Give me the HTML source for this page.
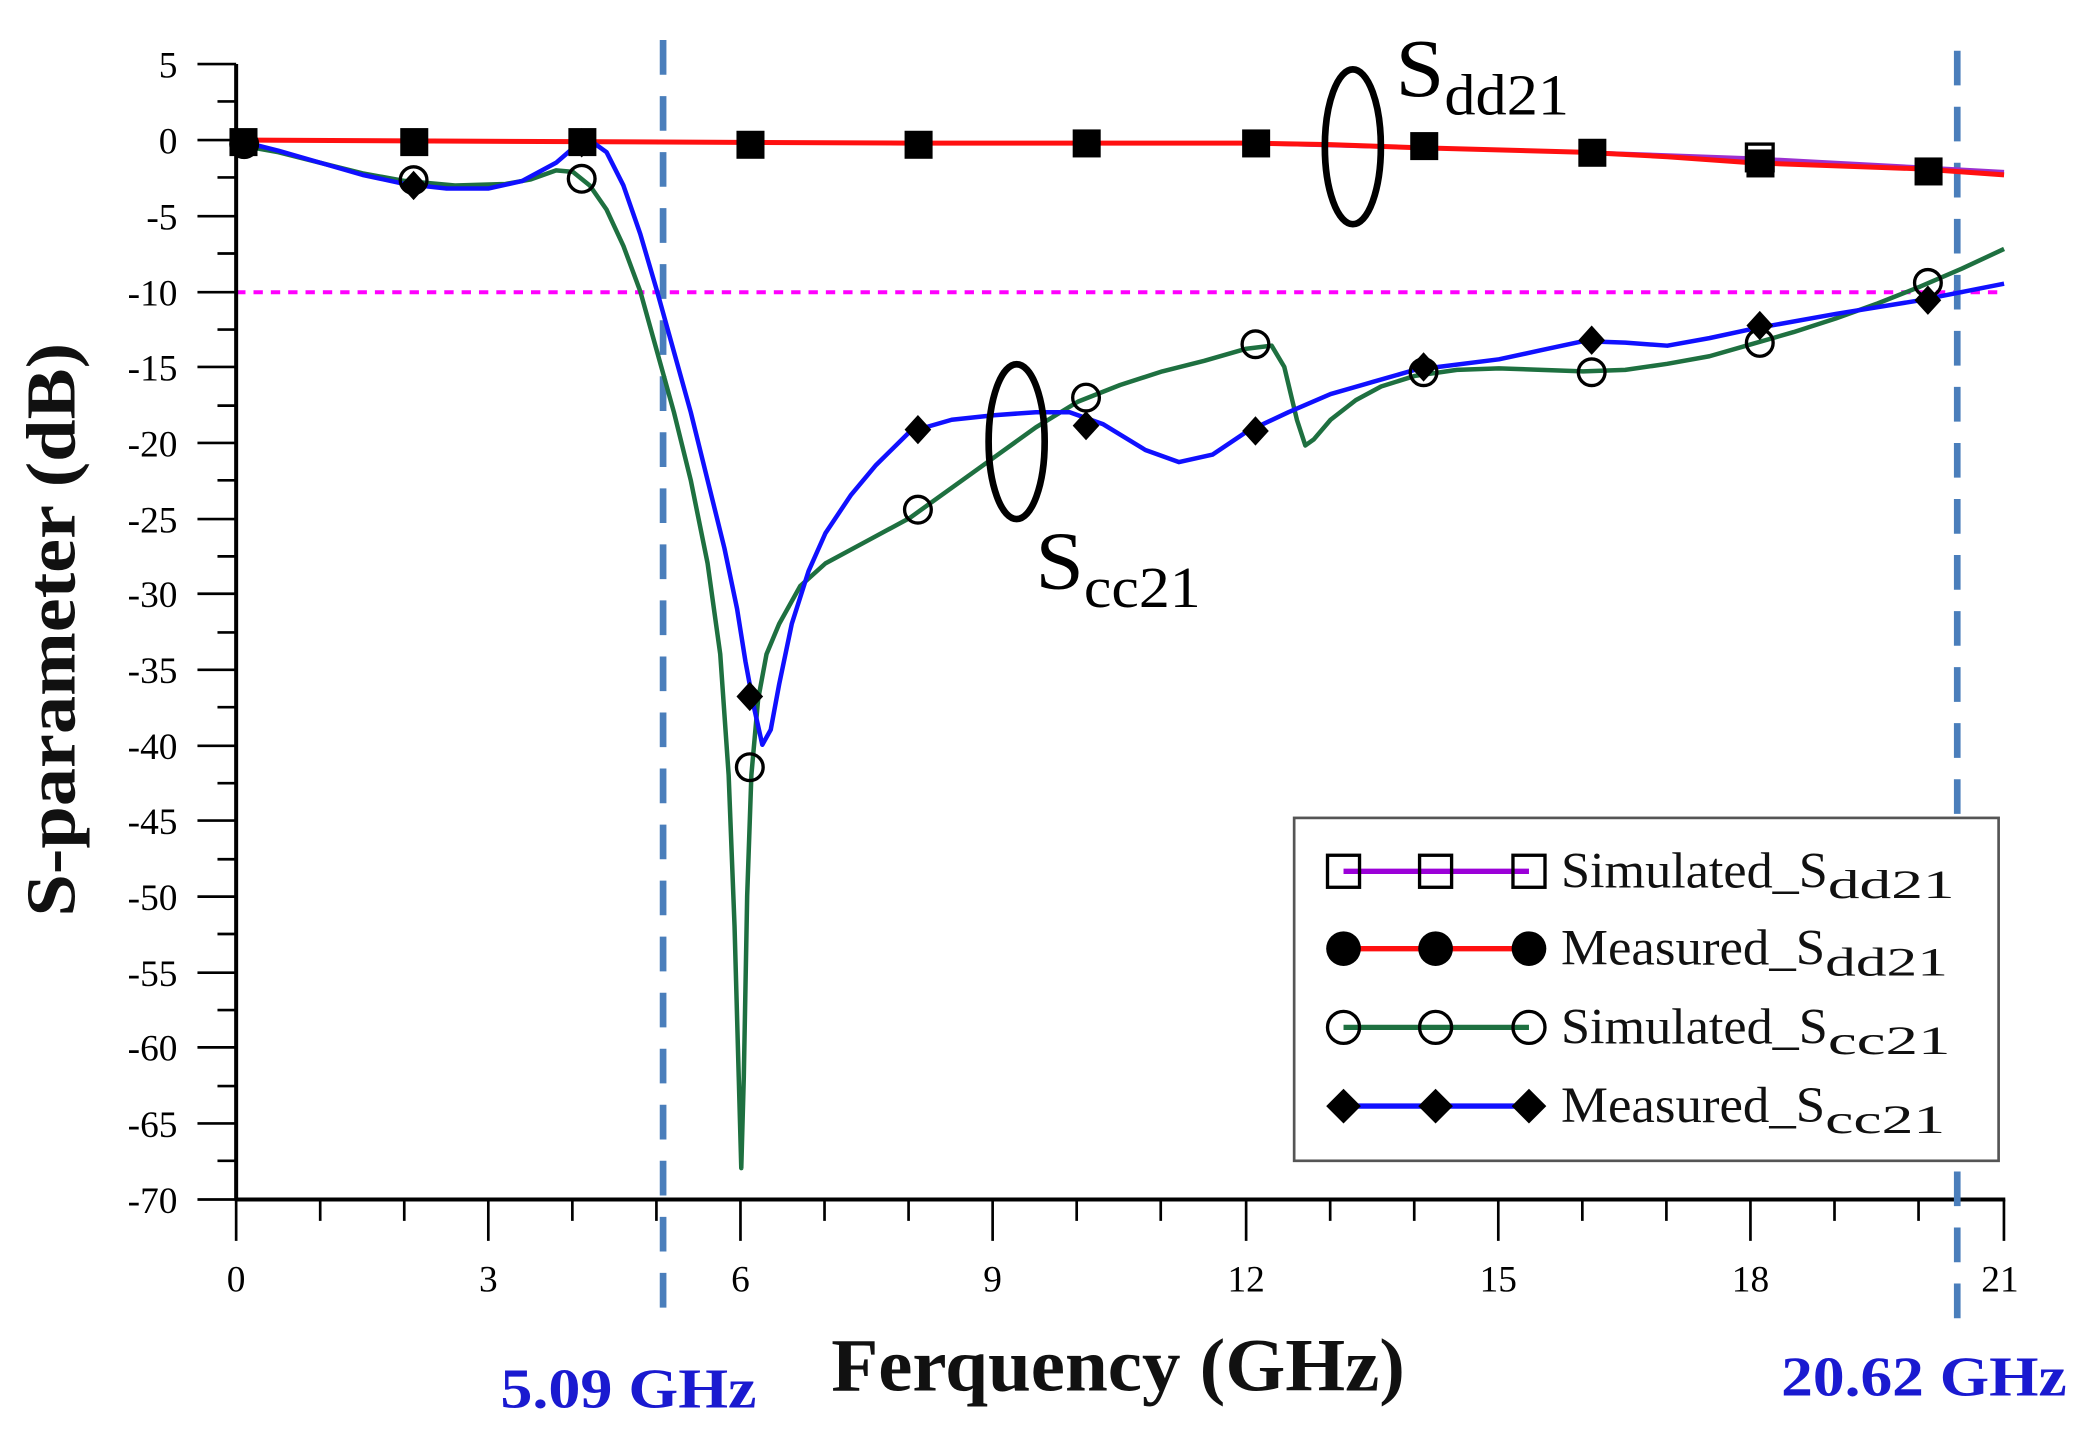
<!DOCTYPE html>
<html><head><meta charset="utf-8"><style>html,body{margin:0;padding:0;background:#fff}svg{display:block}</style></head>
<body>
<svg width="2092" height="1437" viewBox="0 0 1568 1077" preserveAspectRatio="none" xmlns="http://www.w3.org/2000/svg" font-family="Liberation Serif, serif">
<rect width="1568" height="1077" fill="#fff"/>
<line x1="177" y1="219" x2="1502" y2="219" stroke="#ff00ff" stroke-width="3" stroke-dasharray="7,6"/>
<g stroke="#000" stroke-width="3">
<line x1="177" y1="48" x2="177" y2="899"/>
<line x1="176" y1="899" x2="1503" y2="899"/>
</g>
<g stroke="#000" stroke-width="2">
<path d="M148 48H177M148 105H177M148 162H177M148 219H177M148 275H177M148 332H177M148 389H177M148 445H177M148 502H177M148 559H177M148 615H177M148 672H177M148 729H177M148 785H177M148 842H177M148 899H177"/>
<path d="M163 76H177M163 133H177M163 190H177M163 247H177M163 304H177M163 360H177M163 417H177M163 474H177M163 530H177M163 587H177M163 644H177M163 700H177M163 757H177M163 814H177M163 870H177"/>
<path d="M177 899V930M366 899V930M555 899V930M744 899V930M934 899V930M1123 899V930M1312 899V930M1502 899V930"/>
<path d="M240 899V915M303 899V915M429 899V915M492 899V915M618 899V915M681 899V915M807 899V915M870 899V915M997 899V915M1060 899V915M1186 899V915M1249 899V915M1375 899V915M1438 899V915"/>
</g>
<g font-size="28" text-anchor="end" fill="#000">
<text x="133" y="58">5</text><text x="133" y="115">0</text><text x="133" y="172">-5</text><text x="133" y="229">-10</text><text x="133" y="285">-15</text><text x="133" y="342">-20</text><text x="133" y="399">-25</text><text x="133" y="455">-30</text><text x="133" y="512">-35</text><text x="133" y="569">-40</text><text x="133" y="625">-45</text><text x="133" y="682">-50</text><text x="133" y="739">-55</text><text x="133" y="795">-60</text><text x="133" y="852">-65</text><text x="133" y="909">-70</text>
</g>
<g font-size="28" text-anchor="middle" fill="#000">
<text x="177" y="968">0</text><text x="366" y="968">3</text><text x="555" y="968">6</text><text x="744" y="968">9</text><text x="934" y="968">12</text><text x="1123" y="968">15</text><text x="1312" y="968">18</text><text x="1499" y="968">21</text>
</g>
<g stroke="#4a7ebb" stroke-width="5" stroke-dasharray="26,16">
<line x1="497" y1="30" x2="497" y2="990"/>
<line x1="1467" y1="38" x2="1467" y2="998"/>
</g>
<g transform="translate(177,105) scale(63.1,-11.33)" fill="none" stroke-linejoin="round">
<polyline vector-effect="non-scaling-stroke" stroke="#9b30d0" stroke-width="4" points="0,0 4,-0.1 8,-0.2 12,-0.2 14,-0.5 16,-0.8 18,-1.2 20,-1.8 21,-2.1"/>
<polyline vector-effect="non-scaling-stroke" stroke="#ff1010" stroke-width="5" points="0,0 4,-0.1 8,-0.2 12,-0.2 13,-0.3 14,-0.5 16,-0.8 17,-1.1 18,-1.5 20,-1.9 21,-2.3"/>
<polyline vector-effect="non-scaling-stroke" stroke="#1e7040" stroke-width="4.5" points="0,-0.3 0.5,-0.8 1,-1.5 1.5,-2.2 2,-2.7 2.6,-3 3.2,-2.9 3.5,-2.6 3.8,-2 4.0,-2.1 4.2,-3 4.4,-4.6 4.6,-7 4.8,-10 5.0,-14 5.2,-18 5.4,-22.5 5.6,-28 5.75,-34 5.85,-42 5.92,-52 5.97,-62 6.0,-68 6.03,-62 6.07,-50 6.12,-42 6.2,-37 6.3,-34 6.45,-32 6.7,-29.5 7,-28 7.5,-26.5 8,-25 8.5,-23 9,-21 9.5,-19 10,-17.3 10.5,-16.2 11,-15.3 11.5,-14.6 12,-13.8 12.3,-13.6 12.45,-15 12.6,-18.5 12.7,-20.2 12.8,-19.8 13,-18.5 13.3,-17.2 13.6,-16.3 14,-15.6 14.5,-15.2 15,-15.1 16,-15.3 16.5,-15.2 17,-14.8 17.5,-14.3 18,-13.5 18.5,-12.7 19,-11.8 19.5,-10.8 20,-9.7 20.5,-8.5 21,-7.2"/>
<polyline vector-effect="non-scaling-stroke" stroke="#1010ff" stroke-width="4.5" points="0,0 0.5,-0.7 1,-1.5 1.5,-2.3 2,-2.9 2.5,-3.2 3,-3.2 3.4,-2.7 3.8,-1.5 4.05,-0.3 4.25,-0.2 4.4,-0.8 4.6,-3 4.8,-6.2 5.0,-10 5.2,-14 5.4,-18 5.6,-22.5 5.8,-27 5.95,-31 6.05,-34.5 6.15,-37.5 6.25,-40 6.35,-39 6.45,-36 6.6,-32 6.8,-28.5 7,-26 7.3,-23.5 7.6,-21.5 8,-19.3 8.5,-18.5 9,-18.2 9.5,-18 9.9,-18 10.3,-18.8 10.8,-20.5 11.2,-21.3 11.6,-20.8 12,-19.3 12.5,-18 13,-16.8 13.5,-16 14,-15.2 15,-14.5 15.5,-13.9 16,-13.3 16.5,-13.4 17,-13.6 17.5,-13.1 18,-12.5 19,-11.5 20,-10.6 21,-9.5"/>
</g>
<g fill="none" stroke="#000" stroke-width="2.5">
<circle cx="183" cy="108" r="10"/><circle cx="310" cy="135" r="10"/><circle cx="436" cy="134" r="10"/><circle cx="562" cy="575" r="10"/><circle cx="688" cy="382" r="10"/><circle cx="814" cy="298" r="10"/><circle cx="941" cy="258" r="10"/><circle cx="1067" cy="279" r="10"/><circle cx="1193" cy="279" r="10"/><circle cx="1319" cy="257" r="10"/><circle cx="1445" cy="212" r="10"/>
<rect x="1309" y="108" width="20" height="20"/>
</g>
<g fill="#000">
<rect x="172" y="96" width="21" height="21"/><rect x="300" y="96" width="21" height="21"/><rect x="426" y="96" width="21" height="21"/><rect x="552" y="98" width="21" height="21"/><rect x="678" y="98" width="21" height="21"/><rect x="804" y="97" width="21" height="21"/><rect x="931" y="97" width="21" height="21"/><rect x="1057" y="99" width="21" height="21"/><rect x="1183" y="104" width="21" height="21"/><rect x="1309" y="112" width="21" height="21"/><rect x="1435" y="118" width="21" height="21"/>
<path d="M310 128l10 11-10 11-10-11zM436 96l10 11-10 11-10-11zM562 511l10 11-10 11-10-11zM688 311l10 11-10 11-10-11zM814 308l10 11-10 11-10-11zM941 312l10 11-10 11-10-11zM1067 264l10 11-10 11-10-11zM1193 244l10 11-10 11-10-11zM1319 233l10 11-10 11-10-11zM1445 214l10 11-10 11-10-11z"/>
</g>
<g fill="none" stroke="#000" stroke-width="5">
<ellipse cx="1014" cy="110" rx="21" ry="58"/>
<ellipse cx="762" cy="331" rx="21" ry="58"/>
</g>
<text x="1046" y="72" font-size="62" textLength="130" lengthAdjust="spacingAndGlyphs">S<tspan font-size="44" dy="14">dd21</tspan></text>
<text x="776" y="441" font-size="62" textLength="124" lengthAdjust="spacingAndGlyphs">S<tspan font-size="44" dy="14">cc21</tspan></text>
<rect x="970" y="613" width="528" height="257" fill="#fff" stroke="#555" stroke-width="2"/>
<line x1="1007" y1="653" x2="1146" y2="653" stroke="#9b00d8" stroke-width="4"/>
<line x1="1007" y1="711" x2="1146" y2="711" stroke="#ff1010" stroke-width="4"/>
<line x1="1007" y1="770" x2="1146" y2="770" stroke="#1e7040" stroke-width="4"/>
<line x1="1007" y1="829" x2="1146" y2="829" stroke="#1010ff" stroke-width="4"/>
<g fill="none" stroke="#000" stroke-width="2.5">
<rect x="995" y="641" width="24" height="24"/><rect x="1064" y="641" width="24" height="24"/><rect x="1134" y="641" width="24" height="24"/>
<circle cx="1007" cy="770" r="12"/><circle cx="1076" cy="770" r="12"/><circle cx="1146" cy="770" r="12"/>
</g>
<g fill="#000">
<circle cx="1007" cy="711" r="13"/><circle cx="1076" cy="711" r="13"/><circle cx="1146" cy="711" r="13"/>
<path d="M1007 816l13 13-13 13-13-13zM1076 816l13 13-13 13-13-13zM1146 816l13 13-13 13-13-13z"/>
</g>
<g font-size="38" fill="#111">
<text x="1170" y="665" textLength="200" lengthAdjust="spacingAndGlyphs">Simulated_S</text><text x="1370" y="673" font-size="30" textLength="95" lengthAdjust="spacingAndGlyphs">dd21</text>
<text x="1170" y="723" textLength="198" lengthAdjust="spacingAndGlyphs">Measured_S</text><text x="1368" y="731" font-size="30" textLength="92" lengthAdjust="spacingAndGlyphs">dd21</text>
<text x="1170" y="782" textLength="200" lengthAdjust="spacingAndGlyphs">Simulated_S</text><text x="1370" y="790" font-size="30" textLength="92" lengthAdjust="spacingAndGlyphs">cc21</text>
<text x="1170" y="841" textLength="198" lengthAdjust="spacingAndGlyphs">Measured_S</text><text x="1368" y="849" font-size="30" textLength="90" lengthAdjust="spacingAndGlyphs">cc21</text>
</g>
<text x="838" y="1042" font-size="56" font-weight="bold" text-anchor="middle" fill="#111" textLength="430" lengthAdjust="spacingAndGlyphs">Ferquency (GHz)</text>
<text transform="translate(56,472) rotate(-90)" font-size="52" font-weight="bold" text-anchor="middle" fill="#111" textLength="430" lengthAdjust="spacingAndGlyphs">S-parameter (dB)</text>
<text x="471" y="1055" font-size="42" font-weight="bold" text-anchor="middle" fill="#1a1ad0" textLength="192" lengthAdjust="spacingAndGlyphs">5.09 GHz</text>
<text x="1442" y="1046" font-size="42" font-weight="bold" text-anchor="middle" fill="#1a1ad0" textLength="214" lengthAdjust="spacingAndGlyphs">20.62 GHz</text>
</svg>
</body></html>
